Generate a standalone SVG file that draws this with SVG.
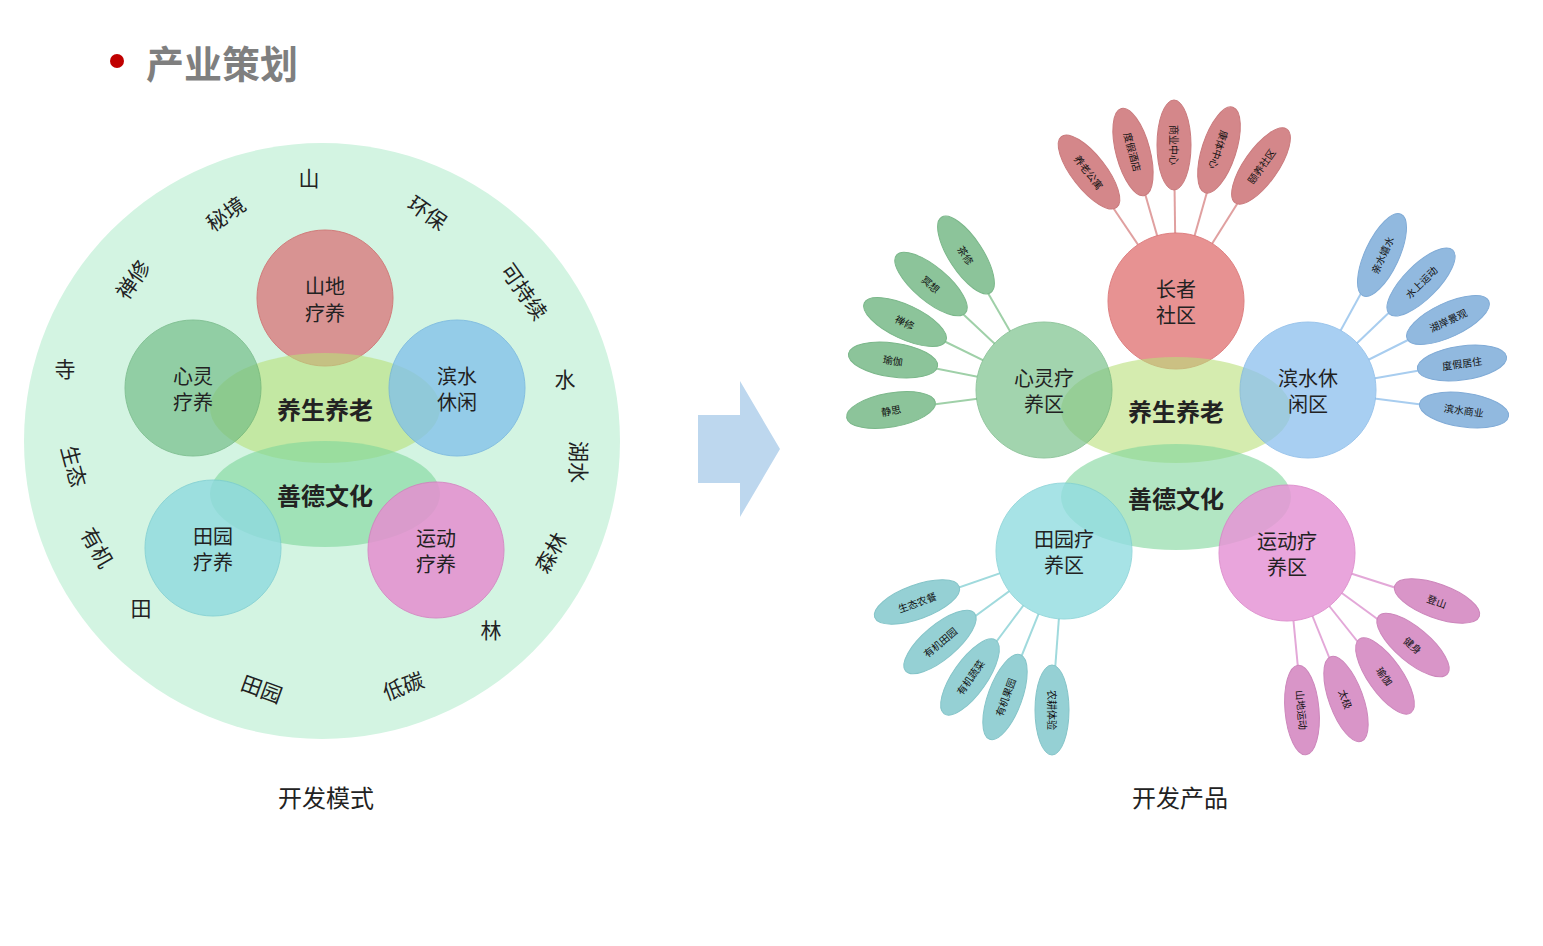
<svg xmlns="http://www.w3.org/2000/svg" width="1543" height="946" viewBox="0 0 1543 946">
<style>
text{font-family:"Noto Sans CJK SC","Liberation Sans",sans-serif;fill:#222;stroke:none;text-anchor:middle;dominant-baseline:central}
.o{font-size:21px}.c{font-size:20px}.e{font-size:24px;font-weight:bold}.p{font-size:10px;fill:#111}
.lr{stroke:#e0a0a0;stroke-width:2}.lg{stroke:#9fd0a8;stroke-width:2}.lb{stroke:#a8cdef;stroke-width:2}.lc{stroke:#a0dadd;stroke-width:2}.lp{stroke:#e3a8d8;stroke-width:2}
</style>
<rect width="1543" height="946" fill="#fff"/>
<circle cx="117" cy="61" r="7" fill="#c00000"/>
<text x="222" y="61" style="font-size:38px;font-weight:bold;fill:#7f7f7f">产业策划</text>
<g id="left">
<circle cx="322" cy="441" r="298" fill="#d3f4e2"/>
<g class="o">
<text x="309" y="177" class="o">山</text>
<text x="428" y="212" class="o" transform="rotate(35 428 212)">环保</text>
<text x="525" y="291" class="o" transform="rotate(55 525 291)">可持续</text>
<text x="565" y="378" class="o">水</text>
<text x="580" y="462" class="o" transform="rotate(90 580 462)">湖水</text>
<text x="550" y="552" class="o" transform="rotate(-60 550 552)">森林</text>
<text x="491" y="629" class="o">林</text>
<text x="403" y="685" class="o" transform="rotate(-20 403 685)">低碳</text>
<text x="262" y="688" class="o" transform="rotate(20 262 688)">田园</text>
<text x="141" y="607" class="o">田</text>
<text x="98" y="547" class="o" transform="rotate(60 98 547)">有机</text>
<text x="75" y="466" class="o" transform="rotate(75 75 466)">生态</text>
<text x="65" y="368" class="o">寺</text>
<text x="132" y="279" class="o" transform="rotate(-55 132 279)">禅修</text>
<text x="225" y="213" class="o" transform="rotate(-35 225 213)">秘境</text>
</g>
<g id="l-red"><circle cx="325" cy="298" r="68" fill="#d9898a" opacity="0.9" stroke="#d07070"/><text x="325" y="285" class="c">山地</text><text x="325" y="312" class="c">疗养</text></g>
<ellipse cx="325" cy="408" rx="115" ry="55" fill="#b9e07a" opacity="0.6"/>
<ellipse cx="325" cy="494" rx="115" ry="53" fill="#7fd69b" opacity="0.6"/>
<g id="l-green"><circle cx="193" cy="388" r="68" fill="#6fbb83" opacity="0.65" stroke="#5aa86e"/><text x="193" y="375" class="c">心灵</text><text x="193" y="401" class="c">疗养</text></g>
<g id="l-blue"><circle cx="457" cy="388" r="68" fill="#80bfeb" opacity="0.75" stroke="#6aaee0"/><text x="457" y="375" class="c">滨水</text><text x="457" y="401" class="c">休闲</text></g>
<g id="l-cyan"><circle cx="213" cy="548" r="68" fill="#8fdadf" opacity="0.8" stroke="#7acdd2"/><text x="213" y="535" class="c">田园</text><text x="213" y="561" class="c">疗养</text></g>
<g id="l-pink"><circle cx="436" cy="550" r="68" fill="#e58fd0" opacity="0.85" stroke="#d67cc0"/><text x="436" y="537" class="c">运动</text><text x="436" y="563" class="c">疗养</text></g>
<text x="325" y="408" class="e">养生养老</text>
<text x="325" y="494" class="e">善德文化</text>
</g>
<text x="326" y="796" style="font-size:24px">开发模式</text>
<polygon id="arrow" points="698,415 740,415 740,381 780,449 740,517 740,483 698,483" fill="#bdd7ee"/>
<g id="connectors">
<line class="lr" x1="1176" y1="301" x2="1089" y2="172"/><line class="lr" x1="1176" y1="301" x2="1133" y2="152"/><line class="lr" x1="1176" y1="301" x2="1174" y2="145"/><line class="lr" x1="1176" y1="301" x2="1219" y2="150"/><line class="lr" x1="1176" y1="301" x2="1261" y2="166"/>
<line class="lg" x1="1044" y1="390" x2="966" y2="255"/><line class="lg" x1="1044" y1="390" x2="931" y2="284"/><line class="lg" x1="1044" y1="390" x2="905" y2="322"/><line class="lg" x1="1044" y1="390" x2="893" y2="360"/><line class="lg" x1="1044" y1="390" x2="891" y2="410"/>
<line class="lb" x1="1308" y1="390" x2="1382" y2="255"/><line class="lb" x1="1308" y1="390" x2="1421" y2="282"/><line class="lb" x1="1308" y1="390" x2="1448" y2="320"/><line class="lb" x1="1308" y1="390" x2="1462" y2="363"/><line class="lb" x1="1308" y1="390" x2="1464" y2="410"/>
<line class="lc" x1="1064" y1="551" x2="917" y2="602"/><line class="lc" x1="1064" y1="551" x2="940" y2="642"/><line class="lc" x1="1064" y1="551" x2="970" y2="677"/><line class="lc" x1="1064" y1="551" x2="1005" y2="697"/><line class="lc" x1="1064" y1="551" x2="1052" y2="710"/>
<line class="lp" x1="1287" y1="553" x2="1437" y2="601"/><line class="lp" x1="1287" y1="553" x2="1413" y2="645"/><line class="lp" x1="1287" y1="553" x2="1385" y2="676"/><line class="lp" x1="1287" y1="553" x2="1346" y2="699"/><line class="lp" x1="1287" y1="553" x2="1302" y2="710"/>
</g>
<g id="petals">
<g fill="#d4878a" stroke="#c97a7d">
<g transform="translate(1089,172) rotate(52)"><ellipse rx="45" ry="17"/><text class="p">养老公寓</text></g>
<g transform="translate(1133,152) rotate(75)"><ellipse rx="45" ry="17"/><text class="p">度假酒店</text></g>
<g transform="translate(1174,145) rotate(90)"><ellipse rx="45" ry="17"/><text class="p">商业中心</text></g>
<g transform="translate(1219,150) rotate(-72)"><ellipse rx="45" ry="17"/><text class="p" transform="rotate(180)">康体中心</text></g>
<g transform="translate(1261,166) rotate(-55)"><ellipse rx="45" ry="17"/><text class="p">颐养社区</text></g>
</g>
<g fill="#8cc49a" stroke="#7bb78a">
<g transform="translate(966,255) rotate(57)"><ellipse rx="45" ry="17"/><text class="p">茶修</text></g>
<g transform="translate(931,284) rotate(40)"><ellipse rx="45" ry="17"/><text class="p">冥想</text></g>
<g transform="translate(905,322) rotate(25)"><ellipse rx="45" ry="17"/><text class="p">禅修</text></g>
<g transform="translate(893,360) rotate(8)"><ellipse rx="45" ry="17"/><text class="p">瑜伽</text></g>
<g transform="translate(891,410) rotate(-10)"><ellipse rx="45" ry="17"/><text class="p">静思</text></g>
</g>
<g fill="#91b9df" stroke="#80abd6">
<g transform="translate(1382,255) rotate(-65)"><ellipse rx="45" ry="17"/><text class="p">亲水嬉水</text></g>
<g transform="translate(1421,282) rotate(-45)"><ellipse rx="45" ry="17"/><text class="p">水上运动</text></g>
<g transform="translate(1448,320) rotate(-25)"><ellipse rx="45" ry="17"/><text class="p">湖岸景观</text></g>
<g transform="translate(1462,363) rotate(-8)"><ellipse rx="45" ry="17"/><text class="p">度假居住</text></g>
<g transform="translate(1464,410) rotate(8)"><ellipse rx="45" ry="17"/><text class="p">滨水商业</text></g>
</g>
<g fill="#95d0d4" stroke="#84c4c8">
<g transform="translate(917,602) rotate(-20)"><ellipse rx="45" ry="17"/><text class="p">生态农餐</text></g>
<g transform="translate(940,642) rotate(-40)"><ellipse rx="45" ry="17"/><text class="p">有机田园</text></g>
<g transform="translate(970,677) rotate(-55)"><ellipse rx="45" ry="17"/><text class="p">有机蔬菜</text></g>
<g transform="translate(1005,697) rotate(-70)"><ellipse rx="45" ry="17"/><text class="p">有机果园</text></g>
<g transform="translate(1052,710) rotate(90)"><ellipse rx="45" ry="17"/><text class="p">农耕体验</text></g>
</g>
<g fill="#d995c8" stroke="#cc86bb">
<g transform="translate(1437,601) rotate(20)"><ellipse rx="45" ry="17"/><text class="p">登山</text></g>
<g transform="translate(1413,645) rotate(40)"><ellipse rx="45" ry="17"/><text class="p">健身</text></g>
<g transform="translate(1385,676) rotate(55)"><ellipse rx="45" ry="17"/><text class="p">瑜伽</text></g>
<g transform="translate(1346,699) rotate(70)"><ellipse rx="45" ry="17"/><text class="p">太极</text></g>
<g transform="translate(1302,710) rotate(85)"><ellipse rx="45" ry="17"/><text class="p">山地运动</text></g>
</g>
</g>
<g fill="#fff"><circle cx="1176" cy="301" r="68"/><circle cx="1044" cy="390" r="68"/><circle cx="1308" cy="390" r="68"/><circle cx="1064" cy="551" r="68"/><circle cx="1287" cy="553" r="68"/></g>
<g id="r-red"><circle cx="1176" cy="301" r="68" fill="#e37f80" opacity="0.85" stroke="#d96a6b"/><text x="1176" y="288" class="c">长者</text><text x="1176" y="314" class="c">社区</text></g>
<ellipse cx="1176" cy="410" rx="115" ry="53" fill="#b9e07a" opacity="0.6"/>
<ellipse cx="1176" cy="497" rx="115" ry="53" fill="#7fd69b" opacity="0.6"/>
<g id="r-green"><circle cx="1044" cy="390" r="68" fill="#7cc28c" opacity="0.7" stroke="#66b078"/><text x="1044" y="377" class="c">心灵疗</text><text x="1044" y="403" class="c">养区</text></g>
<g id="r-blue"><circle cx="1308" cy="390" r="68" fill="#8cc0ee" opacity="0.75" stroke="#7ab2e6"/><text x="1308" y="377" class="c">滨水休</text><text x="1308" y="403" class="c">闲区</text></g>
<g id="r-cyan"><circle cx="1064" cy="551" r="68" fill="#92dde1" opacity="0.8" stroke="#7fd0d4"/><text x="1064" y="538" class="c">田园疗</text><text x="1064" y="564" class="c">养区</text></g>
<g id="r-pink"><circle cx="1287" cy="553" r="68" fill="#e696d6" opacity="0.85" stroke="#da82c8"/><text x="1287" y="540" class="c">运动疗</text><text x="1287" y="566" class="c">养区</text></g>
<text x="1176" y="410" class="e">养生养老</text>
<text x="1176" y="497" class="e">善德文化</text>
<text x="1180" y="796" style="font-size:24px">开发产品</text>
</svg>
